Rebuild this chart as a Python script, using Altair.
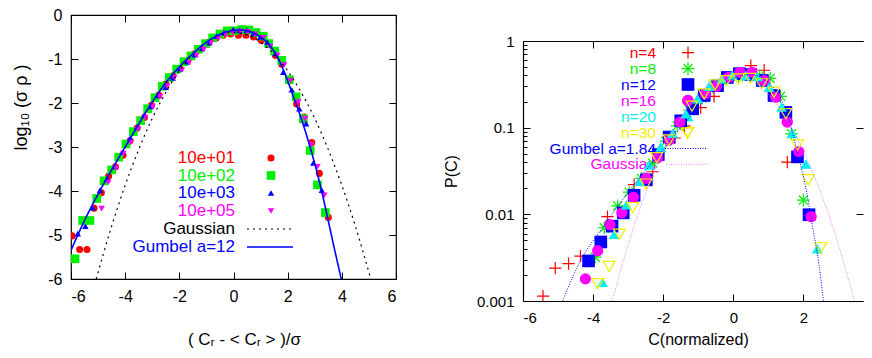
import altair as alt
import pandas as pd

FONT = "Liberation Sans"
RED, GREEN, BLUE, MAGENTA, CYAN, YELLOW = "#ff0000", "#00f000", "#0000ff", "#ff00ff", "#00f0f0", "#f0f000"

# ---------------- left panel ----------------
L_X_TICKS = [-6, -4, -2, 0, 2, 4, 6]
L_Y_TICKS = [-6, -5, -4, -3, -2, -1, 0]
L_X_TITLE = "( Cᵣ - < Cᵣ > )/σ"
L_Y_TITLE = "log₁₀ (σ ρ )"
L_LABELS = ["10e+01", "10e+02", "10e+03", "10e+05", "Gaussian", "Gumbel a=12"]

E1_X = [-5.96, -5.68, -5.41, -5.15, -4.88, -4.61, -4.36, -4.08, -3.82, -3.56, -3.29, -3.03, -2.76, -2.50,
        -2.24, -1.97, -1.70, -1.44, -1.17, -0.91, -0.64, -0.38, -0.11, 0.18, 0.46, 0.74, 1.03, 1.32, 1.55,
        1.78, 2.05, 2.33, 2.61, 2.89, 3.17, 3.50]
E1_Y = [-5.02, -5.33, -5.33, -4.39, -4.04, -3.66, -3.45, -3.19, -2.86, -2.57, -2.33, -2.05, -1.82, -1.57,
        -1.38, -1.22, -1.05, -0.88, -0.75, -0.62, -0.52, -0.46, -0.43, -0.46, -0.46, -0.50, -0.58, -0.65,
        -0.92, -1.12, -1.50, -2.02, -2.32, -2.90, -3.60, -4.60]

E2_X = [-5.85, -5.57, -5.30, -5.05, -4.78, -4.50, -4.24, -3.97, -3.70, -3.43, -3.17, -2.90, -2.63, -2.37,
        -2.10, -1.83, -1.57, -1.30, -1.03, -0.77, -0.50, -0.23, 0.03, 0.30, 0.57, 0.83, 1.10, 1.30, 1.52,
        1.78, 2.06, 2.31, 2.58, 2.83, 3.10, 3.39]
E2_Y = [-5.54, -4.67, -4.67, -4.17, -3.77, -3.52, -3.23, -2.93, -2.65, -2.40, -2.13, -1.88, -1.62, -1.42,
        -1.23, -1.06, -0.93, -0.78, -0.65, -0.52, -0.43, -0.36, -0.36, -0.33, -0.34, -0.40, -0.48, -0.65,
        -0.82, -1.03, -1.47, -1.86, -2.36, -3.08, -3.86, -4.49]

E3_X = [-5.75, -5.47, -5.20, -4.93, -4.66, -4.38, -4.10, -3.82, -3.56, -3.30, -3.05, -2.77, -2.50, -2.24,
        -1.97, -1.70, -1.43, -1.16, -0.89, -0.62, -0.35, -0.01, 0.22, 0.49, 0.74, 0.98, 1.25, 1.55, 1.84,
        2.15, 2.43, 2.68, 2.95, 3.26]
E3_Y = [-4.97, -4.80, -4.38, -3.98, -3.72, -3.44, -3.12, -2.80, -2.54, -2.28, -2.08, -1.83, -1.64, -1.43,
        -1.22, -1.06, -0.90, -0.76, -0.63, -0.48, -0.40, -0.33, -0.35, -0.35, -0.42, -0.50, -0.62, -0.88,
        -1.30, -1.70, -2.13, -2.47, -3.36, -3.98]

E5_X = [-4.87, -4.62, -4.34, -4.07, -3.80, -3.53, -3.26, -2.99, -2.72, -2.45, -2.18, -1.91, -1.64, -1.37,
        -1.10, -0.83, -0.56, -0.29, -0.02, 0.25, 0.52, 0.80, 1.10, 1.35, 1.62, 1.87, 2.11, 2.39, 2.64, 2.87,
        3.10, 3.35]
E5_Y = [-4.40, -3.80, -3.48, -3.15, -2.90, -2.60, -2.33, -2.08, -1.86, -1.62, -1.42, -1.25, -1.08, -0.92,
        -0.78, -0.63, -0.52, -0.44, -0.40, -0.37, -0.38, -0.44, -0.52, -0.72, -0.92, -1.14, -1.49, -1.98,
        -2.36, -2.95, -3.45, -4.10]

GAUSS_L_X = [-5.07, -4.5, -4.0, -3.5, -3.0, -2.5, -2.0, -1.5, -1.0, -0.5, 0.0, 0.5, 1.0, 1.5, 2.0, 2.5,
             3.0, 3.5, 4.0, 4.5, 5.07]
GAUSS_L_Y = [-6.0, -4.80, -3.87, -3.06, -2.35, -1.76, -1.27, -0.89, -0.62, -0.45, -0.40, -0.45, -0.62,
             -0.89, -1.27, -1.76, -2.35, -3.06, -3.87, -4.80, -6.0]

GUM12_X = [-6.0, -5.75, -5.5, -5.25, -5.0, -4.75, -4.5, -4.25, -4.0, -3.75, -3.5, -3.25, -3.0, -2.75, -2.5,
           -2.25, -2.0, -1.75, -1.5, -1.25, -1.0, -0.75, -0.5, -0.25, 0.0, 0.25, 0.5, 0.75, 1.0, 1.25, 1.5,
           1.75, 2.0, 2.25, 2.5, 2.75, 3.0, 3.25, 3.5, 3.75, 3.98]
GUM12_Y = [-5.35, -5.00, -4.67, -4.36, -4.07, -3.79, -3.52, -3.26, -3.00, -2.74, -2.48, -2.22, -1.98, -1.75,
           -1.54, -1.35, -1.18, -1.02, -0.88, -0.74, -0.62, -0.52, -0.44, -0.38, -0.35, -0.34, -0.36, -0.41,
           -0.50, -0.63, -0.83, -1.12, -1.50, -1.92, -2.35, -2.84, -3.38, -3.99, -4.68, -5.38, -6.0]

# ---------------- right panel ----------------
R_X_TICKS = [-6, -4, -2, 0, 2]
R_Y_TICKS = [0.001, 0.01, 0.1, 1]
R_Y_MINOR = [0.002, 0.003, 0.004, 0.005, 0.006, 0.007, 0.008, 0.009,
             0.02, 0.03, 0.04, 0.05, 0.06, 0.07, 0.08, 0.09,
             0.2, 0.3, 0.4, 0.5, 0.6, 0.7, 0.8, 0.9]
R_X_TITLE = "C(normalized)"
R_Y_TITLE = "P(C)"
R_LABELS = ["n=4", "n=8", "n=12", "n=16", "n=20", "n=30", "Gumbel a=1.84", "Gaussian"]

N4_X = [-5.43, -5.08, -4.70, -4.36, -3.59, -2.83, -2.30, -1.67, -1.40, -0.93, -0.55, 0.50, 0.88, 1.54]
N4_P = [0.00114, 0.0024, 0.0027, 0.0033, 0.0094, 0.022, 0.031, 0.076, 0.105, 0.170, 0.23, 0.52, 0.46, 0.040]

N8_X = [-3.94, -3.68, -3.30, -2.97, -2.62, -2.30, -1.92, -1.60, -1.26, -0.90, -0.55, -0.20, 0.15, 0.48,
        0.75, 1.05, 1.35, 1.66, 2.00]
N8_P = [0.0032, 0.0070, 0.0125, 0.018, 0.026, 0.039, 0.070, 0.105, 0.16, 0.22, 0.31, 0.36, 0.39, 0.40,
        0.40, 0.37, 0.23, 0.085, 0.0146]

N12_X = [-4.13, -3.78, -3.46, -3.14, -2.83, -2.48, -2.14, -1.83, -1.50, -1.16, -0.83, -0.45, -0.17, 0.17,
         0.50, 0.83, 1.16, 1.50, 1.83, 2.16]
N12_P = [0.0029, 0.0048, 0.0073, 0.0104, 0.0166, 0.025, 0.049, 0.078, 0.120, 0.165, 0.235, 0.305, 0.38,
         0.42, 0.41, 0.35, 0.235, 0.150, 0.046, 0.0099]

N16_X = [-4.22, -3.87, -3.52, -3.18, -2.85, -2.49, -2.16, -1.83, -1.52, -1.30, -0.80, -0.48, -0.14, 0.19,
         0.53, 0.88, 1.21, 1.54, 1.87, 2.22]
N16_P = [0.0018, 0.0038, 0.0076, 0.0104, 0.0157, 0.026, 0.045, 0.072, 0.116, 0.205, 0.245, 0.30, 0.38,
         0.435, 0.435, 0.35, 0.225, 0.116, 0.053, 0.0094]

N20_X = [-3.73, -3.40, -3.05, -2.68, -2.40, -2.07, -1.73, -1.35, -1.02, -0.69, -0.33, -0.03, 0.35, 0.69,
         1.02, 1.38, 1.68, 2.07, 2.40]
N20_P = [0.00164, 0.0059, 0.0129, 0.024, 0.037, 0.060, 0.086, 0.145, 0.215, 0.30, 0.365, 0.405, 0.40,
         0.39, 0.293, 0.173, 0.086, 0.038, 0.0040]

N30_X = [-3.87, -3.54, -3.25, -2.87, -2.49, -2.18, -1.83, -1.31, -1.18, -0.83, -0.52, -0.20, 0.14, 0.48,
         0.81, 1.16, 1.50, 1.83, 2.14, 2.49]
N30_P = [0.00158, 0.0025, 0.0059, 0.0119, 0.0223, 0.045, 0.072, 0.086, 0.177, 0.245, 0.311, 0.348, 0.365,
         0.37, 0.32, 0.256, 0.145, 0.063, 0.025, 0.0041]

GUM184_X = [-4.87, -4.58, -4.25, -3.92, -3.5, -3.0, -2.5, -2.0, -1.5, -1.0, -0.5, 0.0, 0.5, 1.0, 1.5,
            1.87, 2.05, 2.25, 2.44, 2.57]
GUM184_P = [0.001, 0.0019, 0.0035, 0.0055, 0.0095, 0.018, 0.032, 0.056, 0.10, 0.17, 0.27, 0.37, 0.41,
            0.33, 0.16, 0.044, 0.022, 0.0076, 0.0027, 0.001]

GAUSS_R_X = [-3.46, -3.25, -3.0, -2.75, -2.5, -2.25, -2.0, -1.5, -1.0, -0.5, 0.0, 0.5, 1.0, 1.5, 2.0,
             2.25, 2.5, 2.75, 3.0, 3.25, 3.46]
GAUSS_R_P = [0.001, 0.0020, 0.0044, 0.0091, 0.0175, 0.0317, 0.054, 0.130, 0.242, 0.352, 0.399, 0.352,
             0.242, 0.130, 0.054, 0.0317, 0.0175, 0.0091, 0.0044, 0.0020, 0.001]

PLUS = "M-1,0L1,0M0,-1L0,1"
STAR = "M-1,0L1,0M0,-1L0,1M-0.72,-0.72L0.72,0.72M-0.72,0.72L0.72,-0.72"


def df_xy(xs, ys):
    return pd.DataFrame({"x": xs, "y": ys})


def enc(chart, xs, ys, xaxis=None, yaxis=None):
    xa = alt.X("x:Q", scale=xs, axis=xaxis) if xaxis is not None else alt.X("x:Q", scale=xs, axis=None)
    ya = alt.Y("y:Q", scale=ys, axis=yaxis) if yaxis is not None else alt.Y("y:Q", scale=ys, axis=None)
    return chart.encode(x=xa, y=ya)


def points(xv, yv, xs, ys, shape, color, size, filled=True, sw=1.0):
    if filled:
        m = alt.Chart(df_xy(xv, yv)).mark_point(shape=shape, filled=True, fill=color, size=size,
                                                opacity=1, strokeWidth=0, clip=True)
    else:
        m = alt.Chart(df_xy(xv, yv)).mark_point(shape=shape, filled=False, stroke=color, size=size,
                                                opacity=1, strokeWidth=sw, clip=True)
    return enc(m, xs, ys)


def curve(xv, yv, xs, ys, color, width, dash):
    m = alt.Chart(df_xy(xv, yv)).mark_line(color=color, strokeWidth=width, strokeDash=dash,
                                           interpolate="monotone", clip=True)
    return enc(m, xs, ys)


def axis_layer(xv, yv, xs, ys, xaxis=None, yaxis=None):
    m = alt.Chart(df_xy(xv, yv)).mark_point(opacity=0)
    return enc(m, xs, ys, xaxis, yaxis)


def key_text(label, color, x, y, size):
    return alt.Chart(pd.DataFrame({"t": [label]})).mark_text(
        align="right", baseline="middle", font=FONT, fontSize=size, color=color
    ).encode(x=alt.value(x), y=alt.value(y), text="t:N")


def key_sym(shape, color, x, y, size, filled=True, sw=1.0):
    if filled:
        m = alt.Chart(pd.DataFrame({"k": [0]})).mark_point(shape=shape, filled=True, fill=color, size=size,
                                                           opacity=1, strokeWidth=0)
    else:
        m = alt.Chart(pd.DataFrame({"k": [0]})).mark_point(shape=shape, filled=False, stroke=color,
                                                           size=size, opacity=1, strokeWidth=sw)
    return m.encode(x=alt.value(x), y=alt.value(y))


def key_line(color, x1, x2, y, width, dash):
    return alt.Chart(pd.DataFrame({"k": [0]})).mark_rule(
        color=color, strokeWidth=width, strokeDash=dash
    ).encode(x=alt.value(x1), x2=alt.value(x2), y=alt.value(y))


def border(orient):
    return alt.Axis(orient=orient, domain=True, domainColor="black", domainWidth=1.2, ticks=False,
                    labels=False, grid=False, title="")


TICK = 7
LAB_EXPR = "'' + datum.value"

# ---------- left chart ----------
lxs = alt.Scale(domain=[-6, 6], nice=False, zero=False)
lys = alt.Scale(domain=[-6, 0], nice=False, zero=False)

l_bottom = alt.Axis(orient="bottom", values=L_X_TICKS, tickSize=TICK, offset=-TICK, domain=False, grid=False,
                    tickColor="black", labelColor="black", labelFont=FONT, labelFontSize=16, labelPadding=9,
                    labelExpr=LAB_EXPR, title=L_X_TITLE, titleFont=FONT, titleFontSize=17,
                    titleFontWeight="normal", titleColor="black", titlePadding=27, titleX=173)
l_left = alt.Axis(orient="left", values=L_Y_TICKS, tickSize=TICK, offset=-TICK, domain=False, grid=False,
                  tickColor="black", labelColor="black", labelFont=FONT, labelFontSize=16, labelPadding=9,
                  labelExpr=LAB_EXPR, title=L_Y_TITLE, titleFont=FONT, titleFontSize=18,
                  titleFontWeight="normal", titleColor="black", titlePadding=17, titleY=92)
l_top = alt.Axis(orient="top", values=L_X_TICKS, tickSize=TICK, offset=-TICK, domain=False, grid=False,
                 labels=False, tickColor="black", title="")
l_right = alt.Axis(orient="right", values=L_Y_TICKS, tickSize=TICK, offset=-TICK, domain=False, grid=False,
                   labels=False, tickColor="black", title="")

LK_TX, LK_SX, LK_L1, LK_L2 = 164, 200, 176, 222
LK_ROWS = [143, 160.5, 178, 196, 214, 232]
LFS = 17

left_layers = [
    axis_layer(GUM12_X, GUM12_Y, lxs, lys, xaxis=l_bottom, yaxis=l_left),
    axis_layer(GUM12_X, GUM12_Y, lxs, lys, xaxis=l_top, yaxis=l_right),
    points(E1_X, E1_Y, lxs, lys, "circle", RED, 50),
    points(E2_X, E2_Y, lxs, lys, "square", GREEN, 75),
    points(E3_X, E3_Y, lxs, lys, "triangle-up", BLUE, 42),
    points(E5_X, E5_Y, lxs, lys, "triangle-down", MAGENTA, 42),
    curve(GAUSS_L_X, GAUSS_L_Y, lxs, lys, "black", 1.2, [2, 4]),
    curve(GUM12_X, GUM12_Y, lxs, lys, BLUE, 1.6, [1, 0]),
    key_text(L_LABELS[0], RED, LK_TX, LK_ROWS[0], LFS),
    key_text(L_LABELS[1], GREEN, LK_TX, LK_ROWS[1], LFS),
    key_text(L_LABELS[2], BLUE, LK_TX, LK_ROWS[2], LFS),
    key_text(L_LABELS[3], MAGENTA, LK_TX, LK_ROWS[3], LFS),
    key_text(L_LABELS[4], "black", LK_TX, LK_ROWS[4], LFS),
    key_text(L_LABELS[5], BLUE, LK_TX, LK_ROWS[5], LFS),
    key_sym("circle", RED, LK_SX, LK_ROWS[0], 50),
    key_sym("square", GREEN, LK_SX, LK_ROWS[1], 75),
    key_sym("triangle-up", BLUE, LK_SX, LK_ROWS[2], 42),
    key_sym("triangle-down", MAGENTA, LK_SX, LK_ROWS[3], 42),
    key_line("black", LK_L1, LK_L2, LK_ROWS[4], 1.2, [2, 4]),
    key_line(BLUE, LK_L1, LK_L2, LK_ROWS[5], 1.6, [1, 0]),
]
left = alt.layer(*left_layers).resolve_axis(x="independent", y="independent").properties(
    width=325, height=264, view=alt.ViewBackground(stroke="black", strokeWidth=1.2))

# ---------- right chart ----------
rxs = alt.Scale(domain=[-6, 3.7], nice=False, zero=False)
rys = alt.Scale(type="log", domain=[0.001, 1], nice=False)

R_W = 340
r_bottom = alt.Axis(orient="bottom", values=R_X_TICKS, tickSize=TICK, offset=-TICK, domain=False, grid=False,
                    tickColor="black", labelColor="black", labelFont=FONT, labelFontSize=15, labelPadding=9,
                    labelExpr=LAB_EXPR, title=R_X_TITLE, titleFont=FONT, titleFontSize=16,
                    titleFontWeight="normal", titleColor="black", titlePadding=6, titleX=175)
r_left = alt.Axis(orient="left", values=R_Y_TICKS, tickSize=TICK, offset=-TICK, domain=False, grid=False,
                  tickColor="black", labelColor="black", labelFont=FONT, labelFontSize=15, labelPadding=9,
                  labelExpr=LAB_EXPR, title=R_Y_TITLE, titleFont=FONT, titleFontSize=16,
                  titleFontWeight="normal", titleColor="black", titlePadding=17)
r_left_minor = alt.Axis(orient="left", values=R_Y_MINOR, tickSize=4, offset=-4, domain=False, grid=False,
                        labels=False, tickColor="black", title="")
r_top = alt.Axis(orient="top", values=R_X_TICKS, tickSize=TICK, offset=-TICK, domain=False, grid=False,
                 labels=False, tickColor="black", title="")
r_right = alt.Axis(orient="right", values=R_Y_TICKS, tickSize=TICK, offset=-TICK, domain=False, grid=False,
                   labels=False, tickColor="black", title="")

RK_TX, RK_SX = 133, 165
RK_ROWS = [11.6, 27.6, 43.5, 59.5, 75.5, 91.5, 107.5, 123.3]
RFS = 15.5

right_layers = [
    axis_layer(GUM184_X, GUM184_P, rxs, rys, xaxis=r_bottom, yaxis=r_left),
    axis_layer(GUM184_X, GUM184_P, rxs, rys, xaxis=r_top, yaxis=r_right),
    axis_layer(GUM184_X, GUM184_P, rxs, rys, yaxis=r_left_minor),
    axis_layer(GUM184_X, GUM184_P, rxs, rys, xaxis=border("bottom"), yaxis=border("left")),
    axis_layer(GUM184_X, GUM184_P, rxs, rys, xaxis=border("top")),
    key_text(R_LABELS[0], RED, RK_TX, RK_ROWS[0], RFS),
    key_text(R_LABELS[1], GREEN, RK_TX, RK_ROWS[1], RFS),
    key_text(R_LABELS[2], BLUE, RK_TX, RK_ROWS[2], RFS),
    key_text(R_LABELS[3], MAGENTA, RK_TX, RK_ROWS[3], RFS),
    key_text(R_LABELS[4], CYAN, RK_TX, RK_ROWS[4], RFS),
    key_text(R_LABELS[5], YELLOW, RK_TX, RK_ROWS[5], RFS),
    key_text(R_LABELS[6], BLUE, RK_TX, RK_ROWS[6], RFS),
    key_text(R_LABELS[7], MAGENTA, RK_TX, RK_ROWS[7], RFS),
    key_sym(PLUS, RED, RK_SX, RK_ROWS[0], 150, filled=False, sw=1.2),
    key_sym(STAR, GREEN, RK_SX, RK_ROWS[1], 160, filled=False, sw=1.2),
    key_sym("square", BLUE, RK_SX, RK_ROWS[2], 160),
    key_sym("circle", MAGENTA, RK_SX, RK_ROWS[3], 127),
    key_sym("triangle-up", CYAN, RK_SX, RK_ROWS[4], 120),
    key_sym("triangle-down", YELLOW, RK_SX, RK_ROWS[5], 140, filled=False, sw=1.2),
    key_line(BLUE, 134.5, 184.7, RK_ROWS[6], 1, [1, 1.5]),
    key_line("#f080f0", 143, 185.7, RK_ROWS[7], 1, [1, 1.5]),
    points(N4_X, N4_P, rxs, rys, PLUS, RED, 150, filled=False, sw=1.2),
    points(N8_X, N8_P, rxs, rys, STAR, GREEN, 160, filled=False, sw=1.2),
    points(N12_X, N12_P, rxs, rys, "square", BLUE, 160),
    points(N16_X, N16_P, rxs, rys, "circle", MAGENTA, 127),
    points(N20_X, N20_P, rxs, rys, "triangle-up", CYAN, 120),
    points(N30_X, N30_P, rxs, rys, "triangle-down", YELLOW, 140, filled=False, sw=1.2),
    curve(GUM184_X, GUM184_P, rxs, rys, BLUE, 1, [1, 1.5]),
    curve(GAUSS_R_X, GAUSS_R_P, rxs, rys, "#f080f0", 1, [1, 1.5]),
]
right = alt.layer(*right_layers).resolve_axis(x="independent", y="independent").properties(
    width=R_W, height=260, view=alt.ViewBackground(strokeOpacity=0))

spacer = alt.Chart(pd.DataFrame({"k": [0]})).mark_point(opacity=0).encode(
    x=alt.X("k:Q", axis=None), y=alt.Y("k:Q", axis=None)
).properties(width=R_W, height=19, view=alt.ViewBackground(strokeOpacity=0))

right_col = alt.vconcat(spacer, right, spacing=0)

chart = alt.hconcat(left, right_col, spacing=45).properties(
    padding={"left": 4, "top": -2, "right": 0, "bottom": 0}
)

chart.save("out.html", embed_options={"renderer": "svg", "actions": False})
